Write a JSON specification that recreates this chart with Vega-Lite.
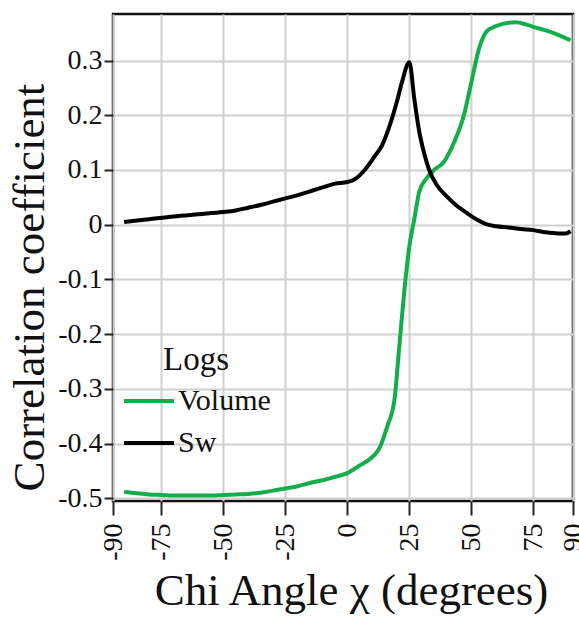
{
  "$schema": "https://vega.github.io/schema/vega-lite/v6.json",
  "width": 460,
  "height": 487,
  "autosize": "none",
  "padding": {"left": 113, "top": 14, "right": 6, "bottom": 117},
  "background": "white",
  "config": {
    "view": {"stroke": "#111", "strokeWidth": 2.5},
    "font": "Liberation Serif",
    "axis": {"labelFont": "Liberation Serif", "titleFont": "Liberation Serif"},
    "legend": {"labelFont": "Liberation Serif", "titleFont": "Liberation Serif"}
  },
  "datasets": {
    "curves": [
      {"chi": -90, "r": -0.488, "log": "Volume"},
      {"chi": -85, "r": -0.491, "log": "Volume"},
      {"chi": -80, "r": -0.493, "log": "Volume"},
      {"chi": -75, "r": -0.494, "log": "Volume"},
      {"chi": -70, "r": -0.495, "log": "Volume"},
      {"chi": -65, "r": -0.495, "log": "Volume"},
      {"chi": -60, "r": -0.495, "log": "Volume"},
      {"chi": -55, "r": -0.495, "log": "Volume"},
      {"chi": -50, "r": -0.494, "log": "Volume"},
      {"chi": -45, "r": -0.493, "log": "Volume"},
      {"chi": -40, "r": -0.492, "log": "Volume"},
      {"chi": -35, "r": -0.49, "log": "Volume"},
      {"chi": -30, "r": -0.486, "log": "Volume"},
      {"chi": -25, "r": -0.482, "log": "Volume"},
      {"chi": -20, "r": -0.478, "log": "Volume"},
      {"chi": -15, "r": -0.472, "log": "Volume"},
      {"chi": -10, "r": -0.467, "log": "Volume"},
      {"chi": -5, "r": -0.461, "log": "Volume"},
      {"chi": 0, "r": -0.454, "log": "Volume"},
      {"chi": 5, "r": -0.44, "log": "Volume"},
      {"chi": 10, "r": -0.425, "log": "Volume"},
      {"chi": 13, "r": -0.408, "log": "Volume"},
      {"chi": 16, "r": -0.37, "log": "Volume"},
      {"chi": 19, "r": -0.32, "log": "Volume"},
      {"chi": 21, "r": -0.22, "log": "Volume"},
      {"chi": 23, "r": -0.12, "log": "Volume"},
      {"chi": 25, "r": -0.04, "log": "Volume"},
      {"chi": 27, "r": 0.01, "log": "Volume"},
      {"chi": 29, "r": 0.06, "log": "Volume"},
      {"chi": 32, "r": 0.085, "log": "Volume"},
      {"chi": 35, "r": 0.1, "log": "Volume"},
      {"chi": 39, "r": 0.115, "log": "Volume"},
      {"chi": 43, "r": 0.15, "log": "Volume"},
      {"chi": 47, "r": 0.2, "log": "Volume"},
      {"chi": 50, "r": 0.26, "log": "Volume"},
      {"chi": 53, "r": 0.32, "log": "Volume"},
      {"chi": 56, "r": 0.352, "log": "Volume"},
      {"chi": 60, "r": 0.363, "log": "Volume"},
      {"chi": 65, "r": 0.369, "log": "Volume"},
      {"chi": 68, "r": 0.37, "log": "Volume"},
      {"chi": 72, "r": 0.366, "log": "Volume"},
      {"chi": 76, "r": 0.36, "log": "Volume"},
      {"chi": 80, "r": 0.355, "log": "Volume"},
      {"chi": 85, "r": 0.347, "log": "Volume"},
      {"chi": 90, "r": 0.337, "log": "Volume"},
      {"chi": -90, "r": 0.005, "log": "Sw"},
      {"chi": -80, "r": 0.01, "log": "Sw"},
      {"chi": -70, "r": 0.015, "log": "Sw"},
      {"chi": -60, "r": 0.019, "log": "Sw"},
      {"chi": -50, "r": 0.023, "log": "Sw"},
      {"chi": -45, "r": 0.026, "log": "Sw"},
      {"chi": -40, "r": 0.031, "log": "Sw"},
      {"chi": -35, "r": 0.036, "log": "Sw"},
      {"chi": -30, "r": 0.042, "log": "Sw"},
      {"chi": -25, "r": 0.048, "log": "Sw"},
      {"chi": -20, "r": 0.054, "log": "Sw"},
      {"chi": -15, "r": 0.061, "log": "Sw"},
      {"chi": -10, "r": 0.068, "log": "Sw"},
      {"chi": -5, "r": 0.075, "log": "Sw"},
      {"chi": 0, "r": 0.078, "log": "Sw"},
      {"chi": 3, "r": 0.083, "log": "Sw"},
      {"chi": 7, "r": 0.1, "log": "Sw"},
      {"chi": 11, "r": 0.125, "log": "Sw"},
      {"chi": 14, "r": 0.145, "log": "Sw"},
      {"chi": 17, "r": 0.18, "log": "Sw"},
      {"chi": 20, "r": 0.225, "log": "Sw"},
      {"chi": 22, "r": 0.26, "log": "Sw"},
      {"chi": 25, "r": 0.297, "log": "Sw"},
      {"chi": 27, "r": 0.23, "log": "Sw"},
      {"chi": 29, "r": 0.17, "log": "Sw"},
      {"chi": 31, "r": 0.13, "log": "Sw"},
      {"chi": 33, "r": 0.1, "log": "Sw"},
      {"chi": 36, "r": 0.073, "log": "Sw"},
      {"chi": 40, "r": 0.052, "log": "Sw"},
      {"chi": 44, "r": 0.035, "log": "Sw"},
      {"chi": 48, "r": 0.022, "log": "Sw"},
      {"chi": 52, "r": 0.01, "log": "Sw"},
      {"chi": 56, "r": 0.001, "log": "Sw"},
      {"chi": 60, "r": -0.003, "log": "Sw"},
      {"chi": 65, "r": -0.005, "log": "Sw"},
      {"chi": 70, "r": -0.008, "log": "Sw"},
      {"chi": 75, "r": -0.01, "log": "Sw"},
      {"chi": 80, "r": -0.014, "log": "Sw"},
      {"chi": 85, "r": -0.016, "log": "Sw"},
      {"chi": 88, "r": -0.016, "log": "Sw"},
      {"chi": 90, "r": -0.012, "log": "Sw"}
    ]
  },
  "layer": [
    {
      "mark": {"type": "rule", "color": "#888", "strokeWidth": 2},
      "encoding": {"x": {"datum": 0, "type": "quantitative"}}
    },
    {
      "mark": {"type": "rule", "color": "#333", "strokeWidth": 2},
      "encoding": {"y": {"datum": 0, "type": "quantitative"}}
    },
    {
      "data": {"name": "curves"},
      "mark": {"type": "line", "strokeWidth": 4, "interpolate": "monotone", "clip": true},
      "encoding": {
        "x": {
          "field": "chi",
          "type": "quantitative",
          "scale": {"domain": [-94.5, 91], "nice": false, "zero": false},
          "axis": {
            "values": [-94.5, -75, -50, -25, 0, 25, 50, 75, 91],
            "labelExpr": "datum.value < -90 ? '-90' : datum.value > 90 ? '90' : replace(datum.label, '−', '-')",
            "title": "Chi Angle χ (degrees)",
            "titleFontSize": 45,
            "titleFontWeight": "normal",
            "titleColor": "#111",
            "titleX": 238,
            "titlePadding": 8,
            "labelFontSize": 28,
            "labelColor": "#111",
            "labelAngle": 270,
            "labelPadding": 8,
            "labelOverlap": false,
            "labelFlush": false,
            "tickSize": 14,
            "tickWidth": 2,
            "tickColor": "#222",
            "domain": false,
            "grid": true,
            "gridColor": "#cfcfcf",
            "gridWidth": 2
          }
        },
        "y": {
          "field": "r",
          "type": "quantitative",
          "scale": {"domain": [-0.505, 0.385], "nice": false, "zero": false},
          "axis": {
            "values": [-0.5, -0.4, -0.3, -0.2, -0.1, 0, 0.1, 0.2, 0.3],
            "labelExpr": "datum.value == 0 ? '0' : replace(format(datum.value, '.1f'), '−', '-')",
            "title": "Correlation coefficient",
            "titleFontSize": 45,
            "titleFontWeight": "normal",
            "titleColor": "#111",
            "titleBaseline": "alphabetic",
            "titleX": -70,
            "titleY": 273,
            "labelFontSize": 28,
            "labelColor": "#111",
            "labelPadding": 2,
            "labelOverlap": false,
            "tickSize": 9,
            "tickWidth": 2,
            "tickColor": "#222",
            "domain": false,
            "grid": true,
            "gridColor": "#cfcfcf",
            "gridWidth": 2
          }
        },
        "color": {
          "field": "log",
          "type": "nominal",
          "scale": {"domain": ["Volume", "Sw"], "range": ["#14ad4b", "#000000"]},
          "legend": {
            "title": "Logs",
            "orient": "none",
            "legendX": 9,
            "legendY": 330,
            "padding": 0,
            "titleAnchor": "middle",
            "titleFontSize": 33,
            "titleFontWeight": "normal",
            "titleColor": "#111",
            "titlePadding": -3,
            "labelFontSize": 30,
            "labelColor": "#111",
            "labelOffset": 2,
            "symbolType": "stroke",
            "symbolSize": 2500,
            "symbolStrokeWidth": 4,
            "rowPadding": -23
          }
        }
      }
    }
  ]
}
